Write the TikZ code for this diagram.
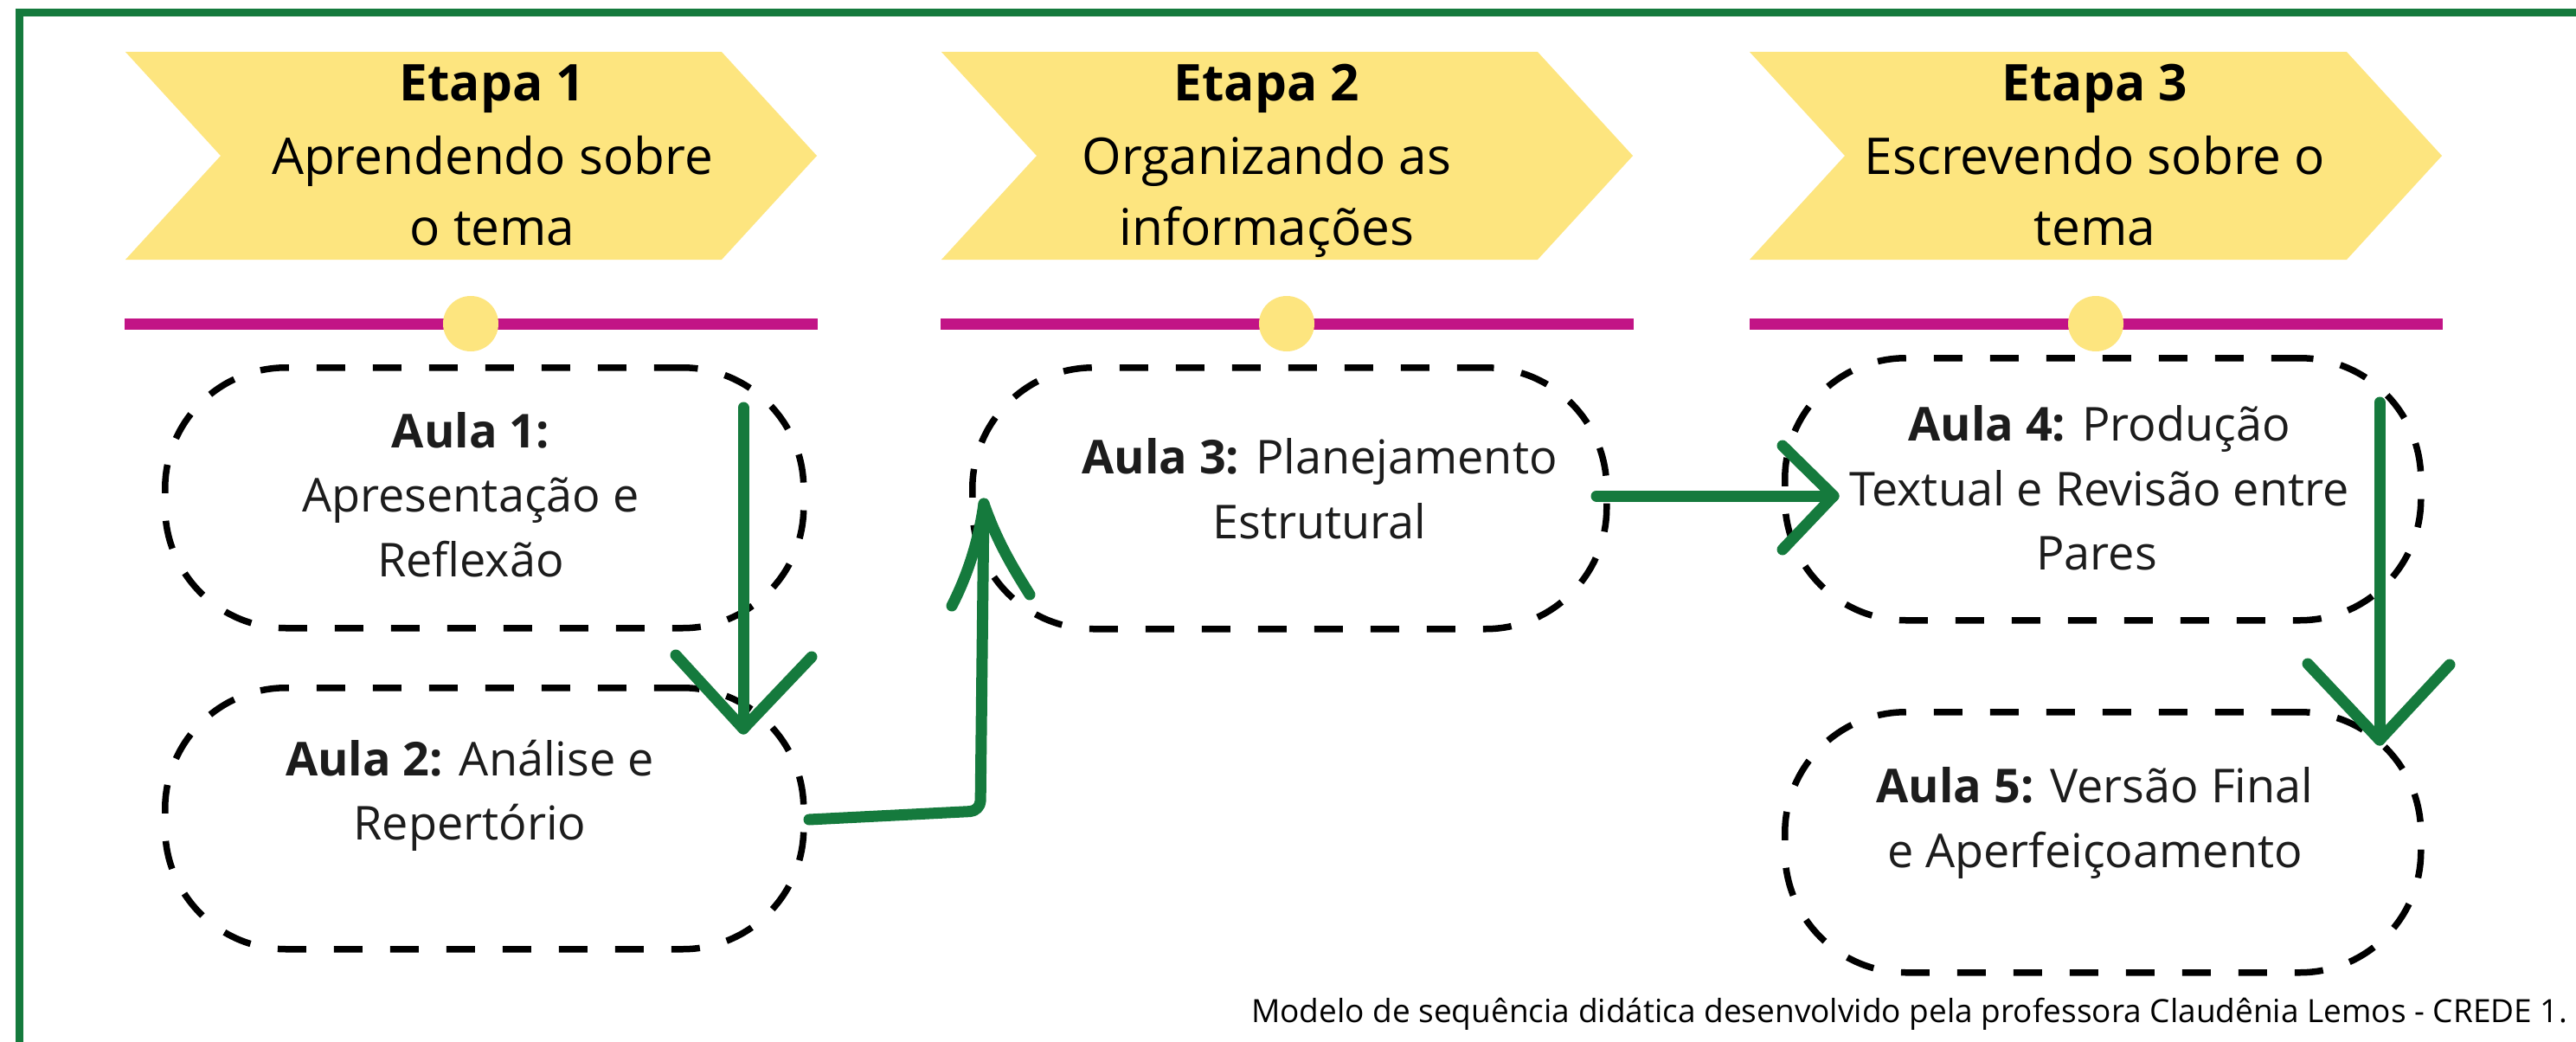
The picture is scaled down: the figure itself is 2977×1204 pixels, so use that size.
\documentclass[tikz,border=0pt]{standalone}
\usepackage{fontspec}
\setmainfont{Open Sans}
\usetikzlibrary{calc}
\definecolor{grn}{RGB}{21,122,61}
\definecolor{ylw}{RGB}{253,229,127}
\definecolor{mag}{RGB}{194,20,134}
\definecolor{txt}{RGB}{28,28,28}
\begin{document}
\begin{tikzpicture}[x=1pt,y=-1pt,
  bannertxt/.style={anchor=base, font=\fontsize{58.5}{70}\selectfont, text=black, inner sep=0pt},
  pilltxt/.style={anchor=base, font=\fontsize{54}{64}\selectfont, text=txt, inner sep=0pt},
  pill/.style={draw=black, line width=7.5pt, dash pattern=on 33pt off 32pt, rounded corners=140pt, inner sep=0pt, anchor=north west},
  banner/.style={fill=ylw},
  tline/.style={draw=mag, line width=13pt},
  garrow/.style={draw=grn, line width=13pt, line cap=round, line join=round},
  frame/.style={draw=grn, line width=9pt}
]
\useasboundingbox (0,0) rectangle (2977,1204);
\fill[white] (0,0) rectangle (2977,1204);
% frame
\draw[frame] (2977,15) -- (22,15) -- (22,1204);

% banners
\fill[banner] (145,60) -- (834,60) -- (944,180) -- (834,300) -- (145,300) -- (255,180) -- cycle;
\fill[banner] (1088,60) -- (1777,60) -- (1887,180) -- (1777,300) -- (1088,300) -- (1198,180) -- cycle;
\fill[banner] (2022,60) -- (2712,60) -- (2822,180) -- (2712,300) -- (2022,300) -- (2132,180) -- cycle;

\node[bannertxt] (e1a) at (569,117) {\textbf{Etapa 1}};
\node[bannertxt] (e1b) at (569,201) {Aprendendo sobre};
\node[bannertxt] (e1c) at (569,283) {o tema};
\node[bannertxt] (e2a) at (1464,117) {\textbf{Etapa 2}};
\node[bannertxt] (e2b) at (1464,201) {Organizando as};
\node[bannertxt] (e2c) at (1464,283) {informações};
\node[bannertxt] (e3a) at (2421,117) {\textbf{Etapa 3}};
\node[bannertxt] (e3b) at (2421,201) {Escrevendo sobre o};
\node[bannertxt] (e3c) at (2421,283) {tema};

% timeline bars
\draw[tline] (144,374) -- (945,374);
\draw[tline] (1087,374) -- (1888,374);
\draw[tline] (2022,374) -- (2823,374);
\fill[ylw] (544,374) circle (32pt);
\fill[ylw] (1487,374) circle (32pt);
\fill[ylw] (2422,374) circle (32pt);

% pills
\node[pill, minimum width=738pt, minimum height=301pt] (p1) at (187,421) {};
\node[pill, minimum width=738pt, minimum height=302pt] (p2) at (187,791) {};
\node[pill, minimum width=733pt, minimum height=302pt] (p3) at (1120,421) {};
\node[pill, minimum width=735pt, minimum height=303pt] (p4) at (2059,410) {};
\node[pill, minimum width=735pt, minimum height=301pt] (p5) at (2059,819) {};

\node[pilltxt] (t1a) at (544,517) {\textbf{Aula 1:}};
\node[pilltxt] (t1b) at (544,591) {Apresentação e};
\node[pilltxt] (t1c) at (544,666) {Reflexão};
\node[pilltxt] (t2a) at (543,896) {\textbf{Aula 2:} Análise e};
\node[pilltxt] (t2b) at (543,970) {Repertório};
\node[pilltxt] (t3a) at (1525,547) {\textbf{Aula 3:} Planejamento};
\node[pilltxt] (t3b) at (1525,622) {Estrutural};
\node[pilltxt] (t4a) at (2426,509) {\textbf{Aula 4:} Produção};
\node[pilltxt] (t4b) at (2426,584) {Textual e Revisão entre};
\node[pilltxt] (t4c) at (2423,658) {Pares};
\node[pilltxt] (t5a) at (2421,927) {\textbf{Aula 5:} Versão Final};
\node[pilltxt] (t5b) at (2421,1002) {e Aperfeiçoamento};

% footer
\node[anchor=base east, inner sep=0pt, font=\fontsize{37}{44}\selectfont, text=black] (foot) at (2967,1181) {Modelo de sequência didática desenvolvido pela professora Claudênia Lemos - CREDE 1.};

% arrow coordinates
\coordinate (a1s) at (859,471);
\coordinate (a1t) at (859,842);
\coordinate (a1l) at (781,757);
\coordinate (a1r) at (938,759);
\coordinate (a2s) at (935,947);
\coordinate (a2c) at (1133,937);
\coordinate (a2t) at (1137,582);
\coordinate (a2l) at (1100,700);
\coordinate (a2r) at (1190,687);
\coordinate (a3s) at (1845,573);
\coordinate (a3t) at (2119,573);
\coordinate (a3l) at (2060,515);
\coordinate (a3r) at (2060,635);
\coordinate (a4s) at (2750,465);
\coordinate (a4t) at (2750,855);
\coordinate (a4l) at (2667,767);
\coordinate (a4r) at (2831,768);

% arrows
\draw[garrow] (a1s) -- (a1t);
\draw[garrow] (a1l) -- (a1t) -- (a1r);
\draw[garrow, rounded corners=12pt] (a2s) -- (a2c) -- (a2t);
\draw[garrow] (a2l) .. controls (1118,665) and (1131,625) .. (a2t) .. controls (1152,625) and (1170,655) .. (a2r);
\draw[garrow] (a3s) -- (a3t);
\draw[garrow] (a3l) -- (a3t) -- (a3r);
\draw[garrow] (a4s) -- (a4t);
\draw[garrow] (a4l) -- (a4t) -- (a4r);
\end{tikzpicture}
\end{document}
